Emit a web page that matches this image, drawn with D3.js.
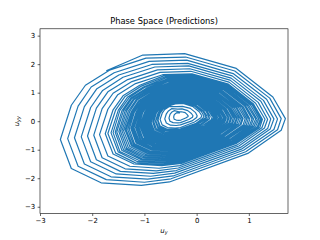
<!DOCTYPE html>
<html>
<head>
<meta charset="utf-8">
<script src="https://cdn.jsdelivr.net/npm/d3@7"></script>
<style>
html,body{margin:0;padding:0;background:#fff;}
svg{display:block;font-family:"DejaVu Sans",sans-serif;}
</style>
</head>
<body>
<svg id="chart" width="320" height="240"></svg>
<script>
const title = "Phase Space (Predictions)";
const xTicks = [-3, -2, -1, 0, 1];
const yTicks = [-3, -2, -1, 0, 1, 2, 3];
const xDomain = [-3.0, 1.75];
const yDomain = [-3.24, 3.24];

// trajectory u_y (one row per revolution of the spiral)
const uy = [
-1.72,
-1.03,-0.23,0.76,1.46,1.70,1.62,0.98,-0.52,-1.06,-1.83,-2.40,-2.61,-2.40,-2.13,-1.67,
-0.97,-0.21,0.73,1.40,1.62,1.55,0.94,-0.49,-1.00,-1.73,-2.27,-2.47,-2.27,-2.02,-1.58,
-0.91,-0.19,0.70,1.34,1.55,1.48,0.90,-0.45,-0.94,-1.64,-2.15,-2.34,-2.15,-1.91,-1.49,
-0.86,-0.17,0.68,1.28,1.48,1.41,0.87,-0.42,-0.88,-1.54,-2.03,-2.21,-2.03,-1.80,-1.41,
-0.80,-0.15,0.66,1.23,1.42,1.36,0.84,-0.39,-0.83,-1.46,-1.92,-2.09,-1.92,-1.70,-1.32,
-0.75,-0.13,0.64,1.18,1.36,1.30,0.81,-0.35,-0.77,-1.37,-1.81,-1.97,-1.81,-1.60,-1.24,
-0.70,-0.11,0.62,1.13,1.31,1.25,0.78,-0.32,-0.72,-1.28,-1.70,-1.86,-1.70,-1.51,-1.17,
-0.65,-0.09,0.61,1.09,1.26,1.21,0.76,-0.29,-0.67,-1.20,-1.60,-1.75,-1.60,-1.41,-1.09,
-0.62,-0.08,0.60,1.07,1.24,1.18,0.75,-0.28,-0.64,-1.17,-1.55,-1.70,-1.55,-1.37,-1.06,
-0.60,-0.06,0.59,1.06,1.22,1.16,0.74,-0.26,-0.61,-1.13,-1.50,-1.64,-1.50,-1.32,-1.02,
-0.59,-0.06,0.58,1.03,1.19,1.13,0.72,-0.25,-0.60,-1.10,-1.47,-1.60,-1.47,-1.29,-1.00,
-0.57,-0.06,0.56,1.00,1.16,1.10,0.70,-0.24,-0.58,-1.07,-1.43,-1.56,-1.43,-1.26,-0.97,
-0.56,-0.07,0.55,0.97,1.13,1.07,0.68,-0.24,-0.58,-1.05,-1.40,-1.53,-1.40,-1.24,-0.95,
-0.55,-0.07,0.53,0.94,1.09,1.04,0.66,-0.24,-0.57,-1.03,-1.37,-1.49,-1.37,-1.21,-0.93,
-0.54,-0.08,0.51,0.92,1.06,1.01,0.64,-0.24,-0.56,-1.01,-1.34,-1.46,-1.34,-1.19,-0.91,
-0.53,-0.08,0.49,0.89,1.02,0.98,0.61,-0.24,-0.55,-0.99,-1.31,-1.43,-1.31,-1.16,-0.89,
-0.52,-0.08,0.47,0.86,0.99,0.95,0.59,-0.24,-0.54,-0.97,-1.28,-1.40,-1.28,-1.14,-0.88,
-0.51,-0.08,0.45,0.83,0.96,0.92,0.57,-0.24,-0.53,-0.95,-1.25,-1.37,-1.25,-1.11,-0.86,
-0.51,-0.09,0.43,0.80,0.93,0.89,0.55,-0.25,-0.53,-0.94,-1.23,-1.35,-1.23,-1.09,-0.85,
-0.51,-0.10,0.41,0.77,0.89,0.85,0.52,-0.25,-0.52,-0.92,-1.21,-1.32,-1.21,-1.07,-0.84,
-0.50,-0.10,0.40,0.75,0.87,0.83,0.51,-0.25,-0.52,-0.90,-1.19,-1.29,-1.19,-1.05,-0.83,
-0.49,-0.10,0.38,0.72,0.84,0.80,0.49,-0.24,-0.51,-0.88,-1.16,-1.26,-1.16,-1.03,-0.81,
-0.49,-0.11,0.36,0.69,0.81,0.77,0.47,-0.25,-0.51,-0.87,-1.14,-1.24,-1.14,-1.02,-0.80,
-0.49,-0.12,0.34,0.66,0.78,0.74,0.44,-0.25,-0.50,-0.86,-1.12,-1.22,-1.12,-1.00,-0.79,
-0.49,-0.12,0.33,0.64,0.76,0.72,0.43,-0.25,-0.50,-0.85,-1.10,-1.20,-1.10,-0.98,-0.78,
-0.48,-0.12,0.31,0.62,0.73,0.69,0.41,-0.25,-0.49,-0.83,-1.08,-1.17,-1.08,-0.96,-0.76,
-0.48,-0.13,0.30,0.60,0.70,0.67,0.39,-0.26,-0.49,-0.82,-1.07,-1.15,-1.07,-0.95,-0.75,
-0.47,-0.14,0.28,0.57,0.67,0.64,0.37,-0.26,-0.49,-0.81,-1.05,-1.13,-1.05,-0.93,-0.74,
-0.47,-0.14,0.27,0.55,0.65,0.62,0.36,-0.26,-0.48,-0.80,-1.03,-1.11,-1.03,-0.92,-0.73,
-0.46,-0.14,0.25,0.53,0.62,0.59,0.34,-0.26,-0.47,-0.78,-1.00,-1.09,-1.00,-0.90,-0.71,
-0.46,-0.15,0.24,0.51,0.60,0.57,0.32,-0.27,-0.47,-0.77,-0.99,-1.07,-0.99,-0.89,-0.71,
-0.46,-0.16,0.22,0.48,0.57,0.54,0.30,-0.27,-0.47,-0.76,-0.98,-1.05,-0.98,-0.87,-0.70,
-0.46,-0.16,0.21,0.46,0.55,0.52,0.29,-0.27,-0.47,-0.75,-0.96,-1.03,-0.96,-0.86,-0.69,
-0.45,-0.16,0.19,0.44,0.53,0.50,0.27,-0.27,-0.46,-0.73,-0.94,-1.01,-0.94,-0.84,-0.68,
-0.45,-0.17,0.18,0.42,0.51,0.48,0.26,-0.27,-0.46,-0.73,-0.93,-1.00,-0.93,-0.83,-0.68,
-0.45,-0.18,0.16,0.40,0.48,0.46,0.24,-0.27,-0.46,-0.72,-0.92,-0.99,-0.92,-0.82,-0.67,
-0.45,-0.18,0.15,0.39,0.47,0.44,0.23,-0.27,-0.46,-0.71,-0.90,-0.97,-0.90,-0.81,-0.66,
-0.44,-0.18,0.14,0.37,0.45,0.42,0.21,-0.27,-0.45,-0.70,-0.88,-0.95,-0.88,-0.79,-0.65,
-0.44,-0.19,0.13,0.35,0.43,0.40,0.20,-0.28,-0.45,-0.69,-0.87,-0.94,-0.87,-0.79,-0.65,
-0.44,-0.19,0.11,0.33,0.40,0.38,0.18,-0.28,-0.45,-0.68,-0.86,-0.92,-0.86,-0.78,-0.64,
-0.44,-0.20,0.10,0.32,0.39,0.36,0.17,-0.28,-0.45,-0.67,-0.85,-0.91,-0.85,-0.77,-0.63,
-0.43,-0.20,0.09,0.30,0.37,0.34,0.16,-0.28,-0.44,-0.66,-0.83,-0.89,-0.83,-0.75,-0.62,
-0.43,-0.21,0.08,0.28,0.35,0.32,0.15,-0.29,-0.44,-0.66,-0.82,-0.88,-0.82,-0.75,-0.62,
-0.43,-0.21,0.07,0.26,0.33,0.30,0.13,-0.29,-0.44,-0.65,-0.81,-0.87,-0.81,-0.74,-0.61,
-0.42,-0.21,0.05,0.23,0.30,0.28,0.11,-0.29,-0.43,-0.63,-0.79,-0.84,-0.79,-0.71,-0.59,
-0.43,-0.23,0.02,0.20,0.26,0.24,0.08,-0.30,-0.43,-0.63,-0.77,-0.82,-0.77,-0.70,-0.59,
-0.42,-0.23,0.01,0.18,0.23,0.21,0.06,-0.30,-0.43,-0.61,-0.74,-0.79,-0.74,-0.68,-0.57,
-0.42,-0.24,-0.02,0.14,0.20,0.18,0.03,-0.31,-0.43,-0.60,-0.73,-0.78,-0.73,-0.67,-0.57,
-0.42,-0.24,-0.03,0.12,0.17,0.16,0.02,-0.31,-0.42,-0.59,-0.71,-0.75,-0.71,-0.65,-0.55,
-0.42,-0.26,-0.05,0.09,0.14,0.12,-0.01,-0.31,-0.42,-0.58,-0.70,-0.74,-0.70,-0.64,-0.55,
-0.41,-0.26,-0.08,0.05,0.10,0.08,-0.04,-0.31,-0.41,-0.56,-0.66,-0.70,-0.66,-0.61,-0.53,
-0.38,-0.27,-0.12,-0.02,0.01,0.00,-0.09,-0.31,-0.39,-0.50,-0.58,-0.61,-0.58,-0.54,-0.48,
-0.36,-0.28,-0.17,-0.10,-0.07,-0.08,-0.15,-0.31,-0.36,-0.45,-0.51,-0.53,-0.51,-0.48,-0.43,
-0.34,-0.29,-0.22,-0.18,-0.16,-0.17,-0.21,-0.30,-0.34,-0.39,-0.43,-0.44,-0.43,-0.41,-0.38,
-0.33
];

// trajectory u_yy
const uyy = [
1.78,
2.32,2.37,1.85,0.85,0.09,-0.32,-1.13,-2.13,-2.25,-2.16,-1.66,-0.64,0.56,1.26,1.79,
2.21,2.25,1.76,0.81,0.09,-0.30,-1.07,-2.02,-2.14,-2.05,-1.58,-0.61,0.53,1.20,1.70,
2.10,2.14,1.67,0.77,0.08,-0.29,-1.02,-1.92,-2.03,-1.95,-1.50,-0.58,0.51,1.14,1.62,
1.99,2.03,1.59,0.73,0.08,-0.27,-0.97,-1.82,-1.93,-1.85,-1.42,-0.55,0.48,1.08,1.54,
1.90,1.94,1.51,0.70,0.08,-0.26,-0.92,-1.73,-1.83,-1.76,-1.35,-0.52,0.46,1.03,1.46,
1.80,1.84,1.44,0.66,0.07,-0.24,-0.87,-1.64,-1.74,-1.67,-1.28,-0.49,0.44,0.98,1.39,
1.71,1.75,1.37,0.63,0.07,-0.23,-0.83,-1.56,-1.65,-1.58,-1.22,-0.47,0.42,0.93,1.32,
1.63,1.66,1.30,0.60,0.07,-0.22,-0.78,-1.48,-1.56,-1.50,-1.15,-0.44,0.40,0.89,1.26,
1.60,1.62,1.27,0.59,0.08,-0.21,-0.76,-1.44,-1.52,-1.46,-1.12,-0.43,0.40,0.87,1.23,
1.56,1.59,1.24,0.58,0.08,-0.20,-0.73,-1.40,-1.48,-1.42,-1.08,-0.41,0.39,0.85,1.20,
1.52,1.55,1.21,0.57,0.08,-0.19,-0.72,-1.37,-1.44,-1.38,-1.06,-0.40,0.38,0.83,1.18,
1.48,1.51,1.18,0.55,0.07,-0.18,-0.70,-1.33,-1.40,-1.34,-1.03,-0.39,0.37,0.81,1.15,
1.45,1.48,1.16,0.55,0.08,-0.17,-0.68,-1.29,-1.36,-1.31,-1.00,-0.38,0.37,0.80,1.13,
1.42,1.45,1.14,0.54,0.08,-0.16,-0.65,-1.25,-1.32,-1.27,-0.97,-0.36,0.36,0.78,1.10,
1.39,1.42,1.11,0.53,0.08,-0.16,-0.63,-1.22,-1.29,-1.24,-0.95,-0.35,0.36,0.77,1.08,
1.35,1.38,1.08,0.51,0.08,-0.15,-0.61,-1.18,-1.25,-1.20,-0.92,-0.34,0.35,0.75,1.05,
1.32,1.35,1.06,0.51,0.09,-0.14,-0.59,-1.15,-1.22,-1.17,-0.89,-0.33,0.35,0.74,1.03,
1.29,1.32,1.04,0.50,0.09,-0.13,-0.57,-1.11,-1.18,-1.13,-0.86,-0.31,0.34,0.72,1.01,
1.26,1.29,1.02,0.49,0.09,-0.13,-0.56,-1.08,-1.15,-1.10,-0.84,-0.30,0.34,0.71,0.99,
1.23,1.26,0.99,0.48,0.09,-0.12,-0.54,-1.05,-1.12,-1.07,-0.81,-0.29,0.33,0.69,0.96,
1.21,1.24,0.97,0.48,0.09,-0.12,-0.52,-1.02,-1.09,-1.04,-0.79,-0.28,0.33,0.68,0.94,
1.18,1.21,0.95,0.47,0.09,-0.11,-0.50,-0.99,-1.05,-1.00,-0.76,-0.26,0.32,0.67,0.92,
1.16,1.19,0.94,0.46,0.10,-0.10,-0.48,-0.96,-1.02,-0.97,-0.74,-0.25,0.32,0.66,0.91,
1.14,1.16,0.92,0.45,0.10,-0.09,-0.46,-0.93,-0.98,-0.94,-0.71,-0.24,0.32,0.64,0.89,
1.11,1.13,0.90,0.45,0.10,-0.09,-0.45,-0.91,-0.96,-0.92,-0.69,-0.23,0.32,0.63,0.87,
1.08,1.10,0.88,0.44,0.10,-0.08,-0.44,-0.88,-0.93,-0.89,-0.67,-0.22,0.31,0.62,0.85,
1.06,1.08,0.87,0.44,0.11,-0.07,-0.42,-0.85,-0.90,-0.86,-0.65,-0.21,0.31,0.61,0.84,
1.04,1.06,0.85,0.43,0.11,-0.06,-0.40,-0.82,-0.87,-0.83,-0.62,-0.20,0.31,0.60,0.82,
1.02,1.04,0.84,0.43,0.12,-0.06,-0.39,-0.79,-0.84,-0.81,-0.60,-0.19,0.31,0.59,0.81,
1.00,1.02,0.82,0.42,0.12,-0.05,-0.37,-0.76,-0.81,-0.78,-0.58,-0.17,0.30,0.58,0.79,
0.98,1.00,0.80,0.41,0.12,-0.05,-0.36,-0.74,-0.79,-0.76,-0.56,-0.17,0.30,0.57,0.78,
0.96,0.98,0.78,0.40,0.12,-0.04,-0.34,-0.72,-0.77,-0.73,-0.54,-0.16,0.29,0.56,0.76,
0.94,0.96,0.77,0.40,0.13,-0.03,-0.33,-0.70,-0.74,-0.71,-0.52,-0.15,0.29,0.55,0.75,
0.92,0.94,0.76,0.40,0.13,-0.02,-0.31,-0.67,-0.71,-0.68,-0.50,-0.14,0.29,0.54,0.73,
0.91,0.93,0.75,0.40,0.13,-0.02,-0.30,-0.65,-0.69,-0.66,-0.48,-0.13,0.29,0.54,0.72,
0.89,0.91,0.73,0.39,0.13,-0.01,-0.28,-0.62,-0.66,-0.63,-0.46,-0.12,0.29,0.53,0.71,
0.88,0.89,0.72,0.39,0.13,-0.01,-0.27,-0.61,-0.65,-0.62,-0.45,-0.11,0.29,0.52,0.70,
0.86,0.87,0.70,0.38,0.13,0.00,-0.26,-0.59,-0.63,-0.60,-0.43,-0.10,0.29,0.51,0.68,
0.85,0.86,0.69,0.38,0.14,0.01,-0.25,-0.57,-0.61,-0.58,-0.42,-0.09,0.29,0.51,0.67,
0.83,0.84,0.68,0.38,0.14,0.02,-0.23,-0.54,-0.58,-0.55,-0.40,-0.08,0.29,0.50,0.66,
0.82,0.83,0.67,0.38,0.15,0.03,-0.22,-0.52,-0.56,-0.53,-0.38,-0.07,0.29,0.50,0.66,
0.80,0.82,0.66,0.37,0.15,0.03,-0.21,-0.50,-0.53,-0.51,-0.36,-0.06,0.29,0.49,0.65,
0.79,0.80,0.65,0.37,0.15,0.04,-0.20,-0.49,-0.52,-0.49,-0.35,-0.06,0.29,0.48,0.64,
0.77,0.78,0.64,0.36,0.15,0.04,-0.19,-0.47,-0.50,-0.47,-0.34,-0.05,0.28,0.47,0.62,
0.75,0.76,0.62,0.36,0.16,0.05,-0.16,-0.43,-0.46,-0.44,-0.30,-0.03,0.28,0.47,0.61,
0.73,0.74,0.61,0.36,0.17,0.07,-0.14,-0.39,-0.42,-0.40,-0.27,-0.02,0.29,0.46,0.59,
0.70,0.71,0.59,0.35,0.17,0.07,-0.12,-0.36,-0.39,-0.37,-0.25,-0.01,0.28,0.45,0.57,
0.68,0.69,0.57,0.35,0.18,0.08,-0.10,-0.33,-0.35,-0.33,-0.22,0.01,0.28,0.44,0.56,
0.67,0.68,0.56,0.35,0.19,0.10,-0.08,-0.29,-0.32,-0.30,-0.19,0.03,0.29,0.44,0.55,
0.64,0.65,0.54,0.34,0.18,0.10,-0.07,-0.27,-0.29,-0.27,-0.17,0.04,0.28,0.42,0.53,
0.61,0.62,0.52,0.33,0.19,0.12,-0.03,-0.22,-0.24,-0.22,-0.13,0.06,0.28,0.41,0.51,
0.51,0.52,0.45,0.30,0.19,0.13,0.01,-0.13,-0.15,-0.14,-0.06,0.08,0.26,0.36,0.44,
0.42,0.43,0.37,0.27,0.19,0.14,0.06,-0.05,-0.06,-0.05,0.00,0.11,0.24,0.31,0.37,
0.33,0.33,0.30,0.23,0.18,0.16,0.11,0.04,0.03,0.04,0.07,0.14,0.22,0.26,0.30,
0.29
];

const W = 320, H = 240;
const mL = 40, mR = 288, mT = 28.8, mB = 213.6;
const svg = d3.select("#chart");
svg.append("rect").attr("width", W).attr("height", H).attr("fill", "#fff");

const x = d3.scaleLinear().domain(xDomain).range([mL, mR]);
const y = d3.scaleLinear().domain(yDomain).range([mB, mT]);

svg.append("defs").append("clipPath").attr("id", "clip")
  .append("rect").attr("x", mL).attr("y", mT)
  .attr("width", mR - mL).attr("height", mB - mT);

const line = d3.line()
  .x(i => x(uy[i]))
  .y(i => y(uyy[i]));

svg.append("path")
  .attr("clip-path", "url(#clip)")
  .attr("d", line(d3.range(uy.length)))
  .attr("fill", "none")
  .attr("stroke", "#1f77b4")
  .attr("stroke-width", 1.2)
  .attr("stroke-linejoin", "round")
  .attr("stroke-linecap", "square");

const fmt = d => (d < 0 ? "\u2212" + Math.abs(d) : String(d));

const xAxis = svg.append("g")
  .attr("transform", `translate(0,${mB})`)
  .call(d3.axisBottom(x).tickValues(xTicks).tickFormat(fmt).tickSize(2.4).tickPadding(2.4));
const yAxis = svg.append("g")
  .attr("transform", `translate(${mL},0)`)
  .call(d3.axisLeft(y).tickValues(yTicks).tickFormat(fmt).tickSize(2.4).tickPadding(2.4));

[xAxis, yAxis].forEach(g => {
  g.select(".domain").remove();
  g.selectAll(".tick line").attr("stroke", "#000").attr("stroke-width", 0.6);
  g.selectAll(".tick text").attr("fill", "#000")
    .attr("font-family", "DejaVu Sans").attr("font-size", 6.94);
});

svg.append("rect")
  .attr("x", mL).attr("y", mT)
  .attr("width", mR - mL).attr("height", mB - mT)
  .attr("fill", "none").attr("stroke", "#000").attr("stroke-width", 0.6);

svg.append("text")
  .attr("x", (mL + mR) / 2).attr("y", 24.3)
  .attr("text-anchor", "middle")
  .attr("font-size", 8.33).attr("fill", "#000")
  .text(title);

const xl = svg.append("text")
  .attr("x", (mL + mR) / 2).attr("y", 232.5)
  .attr("text-anchor", "middle")
  .attr("font-size", 6.94).attr("font-style", "italic").attr("fill", "#000");
xl.append("tspan").text("u");
xl.append("tspan").attr("font-size", 4.9).attr("dy", 1.6).text("y");

const yl = svg.append("text")
  .attr("transform", `translate(18.8,${(mT + mB) / 2}) rotate(-90)`)
  .attr("text-anchor", "middle")
  .attr("font-size", 6.94).attr("font-style", "italic").attr("fill", "#000");
yl.append("tspan").text("u");
yl.append("tspan").attr("font-size", 4.9).attr("dy", 1.6).text("yy");
</script>
</body>
</html>
